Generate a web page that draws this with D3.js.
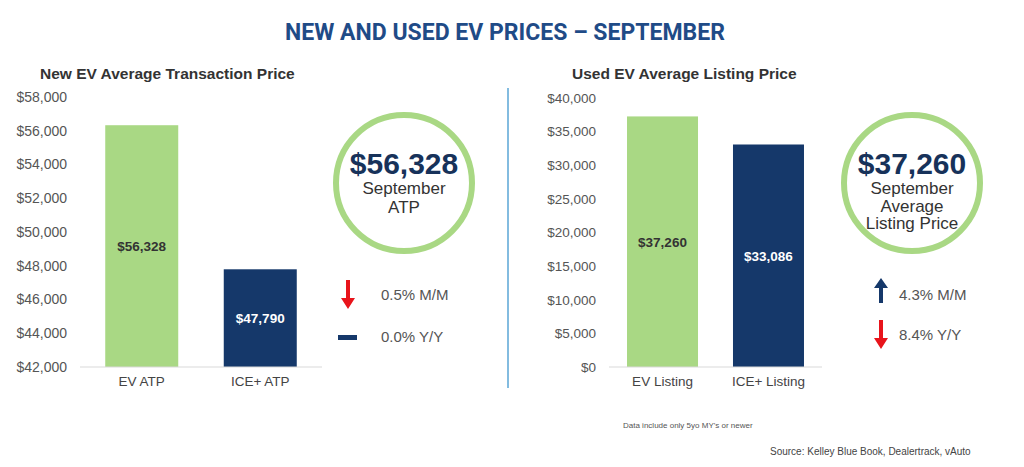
<!DOCTYPE html>
<html>
<head>
<meta charset="utf-8">
<script src="https://cdn.jsdelivr.net/npm/d3@7"></script>
<style>
  html, body { margin: 0; padding: 0; background: #fff; }
  svg { display: block; }
</style>
</head>
<body>
<svg id="chart" width="1024" height="467"></svg>
<script>
// ---------- data ----------
const newCategories = ["EV ATP", "ICE+ ATP"];
const newValues = [56328, 47790];
const newTicks = [42000, 44000, 46000, 48000, 50000, 52000, 54000, 56000, 58000];

const usedCategories = ["EV Listing", "ICE+ Listing"];
const usedValues = [37260, 33086];
const usedTicks = [0, 5000, 10000, 15000, 20000, 25000, 30000, 35000, 40000];

const barColors = ["#a9d884", "#15386a"];
const labelColors = ["#333333", "#ffffff"];

const newChanges = [{dir: "down", text: "0.5% M/M"}, {dir: "flat", text: "0.0% Y/Y"}];
const usedChanges = [{dir: "up", text: "4.3% M/M"}, {dir: "down", text: "8.4% Y/Y"}];

const fmt = d3.format("$,");

const svg = d3.select("#chart");
const FONT = "'Liberation Sans', Arial, sans-serif";

// title
svg.append("text")
  .attr("x", 505).attr("y", 40)
  .attr("text-anchor", "middle")
  .attr("font-family", "Roboto, sans-serif")
  .attr("font-weight", 700)
  .attr("font-size", 23)
  .attr("fill", "#1f4b87")
  .text("NEW AND USED EV PRICES – SEPTEMBER");

// divider
svg.append("line")
  .attr("x1", 508).attr("x2", 508)
  .attr("y1", 88).attr("y2", 388)
  .attr("stroke", "#5aa6d6").attr("stroke-width", 1.5);

function panel(opt) {
  const g = svg.append("g");
  g.append("text")
    .attr("x", opt.titleX).attr("y", 79)
    .attr("font-family", FONT).attr("font-weight", 700)
    .attr("font-size", 15.5).attr("fill", "#333")
    .text(opt.title);

  const y = d3.scaleLinear().domain(opt.domain).range([367, opt.yTop]);
  const x = d3.scaleBand().domain(opt.categories)
    .range(opt.xRange).paddingInner(opt.pIn).paddingOuter(opt.pOut);

  // y axis labels
  const yAxis = d3.axisLeft(y).tickValues(opt.ticks).tickFormat(fmt).tickSize(0).tickPadding(0);
  const ya = g.append("g").attr("transform", `translate(${opt.yLabelX},0)`).call(yAxis);
  ya.select(".domain").remove();
  ya.selectAll("text").attr("font-family", FONT).attr("font-size", opt.tickSize).attr("fill", "#555");

  // bars
  g.selectAll("rect.bar").data(opt.values).join("rect")
    .attr("class", "bar")
    .attr("x", (d, i) => x(opt.categories[i]))
    .attr("width", x.bandwidth())
    .attr("y", d => y(d))
    .attr("height", d => y(opt.domain[0]) - y(d))
    .attr("fill", (d, i) => barColors[i]);

  // bar value labels
  g.selectAll("text.val").data(opt.values).join("text")
    .attr("class", "val")
    .attr("x", (d, i) => x(opt.categories[i]) + x.bandwidth() / 2)
    .attr("y", d => (y(d) + y(opt.domain[0])) / 2 + 5)
    .attr("text-anchor", "middle")
    .attr("font-family", FONT).attr("font-weight", 700).attr("font-size", 13.5)
    .attr("fill", (d, i) => labelColors[i])
    .text(d => fmt(d));

  // baseline + category axis
  const xAxis = d3.axisBottom(x).tickSize(0).tickPadding(9);
  const xa = g.append("g").attr("transform", `translate(0,${y(opt.domain[0])})`).call(xAxis);
  xa.select(".domain").attr("stroke", "#d9d9d9").attr("d", `M${opt.xRange[0]},0H${opt.xRange[1]}`);
  xa.selectAll("text").attr("font-family", FONT).attr("font-size", 13.5).attr("fill", "#444");

  // circle callout
  g.append("circle")
    .attr("cx", opt.cx).attr("cy", 183).attr("r", 68)
    .attr("fill", "none").attr("stroke", "#a9d884").attr("stroke-width", 6);
  g.append("text")
    .attr("x", opt.cx).attr("y", 174)
    .attr("text-anchor", "middle")
    .attr("font-family", FONT).attr("font-weight", 700).attr("font-size", 30)
    .attr("fill", "#17325a")
    .text(fmt(opt.values[0]));
  g.selectAll("text.sub").data(opt.circleLines).join("text")
    .attr("class", "sub")
    .attr("x", opt.cx)
    .attr("y", (d, i) => 194 + i * opt.lineGap)
    .attr("text-anchor", "middle")
    .attr("font-family", FONT).attr("font-size", 17).attr("fill", "#333")
    .text(d => d);

  // change indicators
  opt.changes.forEach((c, i) => {
    const cy = opt.changeY[i];
    const ax = opt.arrowX;
    if (c.dir === "down") {
      g.append("path")
        .attr("d", `M${ax - 2},${cy - 15}h4v18h5l-7,11l-7,-11h5z`)
        .attr("fill", "#e8141b");
    } else if (c.dir === "up") {
      g.append("path")
        .attr("d", `M${ax - 2},${cy + 8}h4v-15h5l-7,-10l-7,10h5z`)
        .attr("fill", "#15386a");
    } else {
      g.append("rect")
        .attr("x", ax - 10).attr("y", cy - 2).attr("width", 19).attr("height", 5)
        .attr("fill", "#15386a");
    }
    g.append("text")
      .attr("x", opt.changeTextX).attr("y", cy + 5)
      .attr("font-family", FONT).attr("font-size", 15).attr("fill", "#555")
      .text(c.text);
  });
}

panel({
  title: "New EV Average Transaction Price", titleX: 40,
  categories: newCategories, values: newValues, ticks: newTicks,
  domain: [42000, 58000], yTop: 97, yLabelX: 67, tickSize: 14,
  xRange: [80, 322], pIn: 0.384, pOut: 0.213,
  cx: 404, circleLines: ["September", "ATP"], lineGap: 19,
  changes: newChanges, changeY: [295, 337], arrowX: 348, changeTextX: 381
});

panel({
  title: "Used EV Average Listing Price", titleX: 572,
  categories: usedCategories, values: usedValues, ticks: usedTicks,
  domain: [0, 40000], yTop: 98, yLabelX: 596, tickSize: 13.5,
  xRange: [609, 822], pIn: 0.33, pOut: 0.17,
  cx: 912, circleLines: ["September", "Average", "Listing Price"], lineGap: 17.5,
  changes: usedChanges, changeY: [295, 335], arrowX: 881, changeTextX: 899
});

// footnotes
svg.append("text")
  .attr("x", 623).attr("y", 428)
  .attr("font-family", FONT).attr("font-size", 8).attr("fill", "#555")
  .text("Data include only 5yo MY's or newer");
svg.append("text")
  .attr("x", 770).attr("y", 455)
  .attr("font-family", FONT).attr("font-size", 10).attr("fill", "#444")
  .text("Source: Kelley Blue Book, Dealertrack, vAuto");
</script>
</body>
</html>
